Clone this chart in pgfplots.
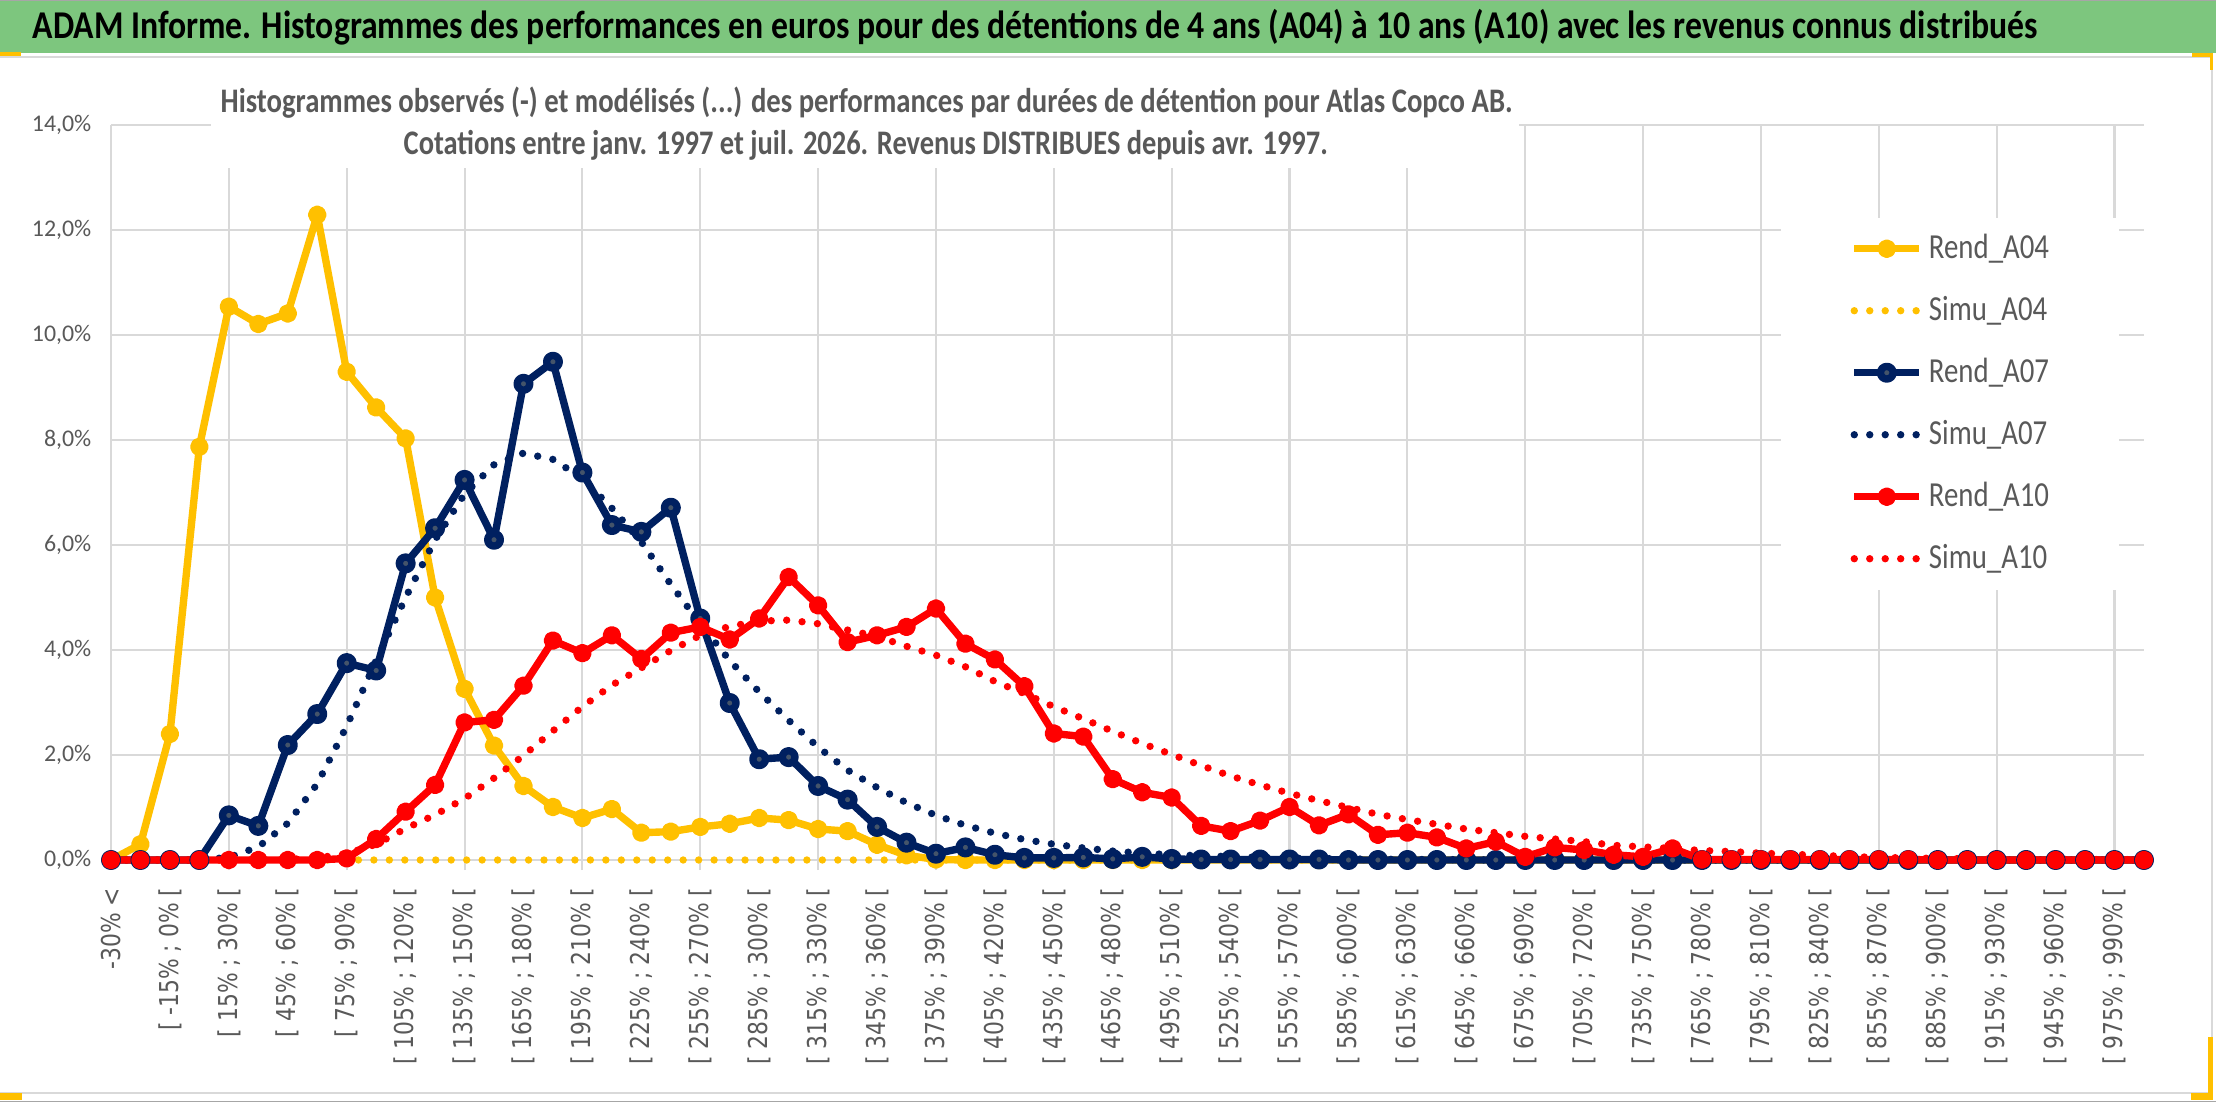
\documentclass[border=0pt]{standalone}
\usepackage{fontspec}
\setmainfont{Carlito}
\newfontfamily\legfont{Carlito}[FakeStretch=0.82]
\newfontfamily\xfont{DejaVu Sans}[FakeStretch=0.84]
\usepackage{graphicx}
\usepackage{pgfplots}
\usepackage{pgfplotstable}
\pgfplotsset{compat=1.18}
\definecolor{gold}{HTML}{FFC000}
\definecolor{navy}{HTML}{002060}
\definecolor{mkseven}{HTML}{44546A}
\definecolor{redA}{HTML}{FF0000}
\definecolor{gridgray}{HTML}{D9D9D9}
\definecolor{txtgray}{HTML}{595959}
\definecolor{titlegreen}{HTML}{7DC67E}

\pgfplotstableread{
i a04 s04 a07 s07 a10 s10
0 0 0 0 0 0 0
1 0.30 0 0 0 0 0
2 2.40 0 0 0 0 0
3 7.87 0 0 0 0 0
4 10.54 0 0.85 0.05 0 0
5 10.21 0 0.65 0.25 0 0
6 10.41 0 2.19 0.70 0 0.01
7 12.29 0 2.78 1.45 0 0.04
8 9.30 0 3.75 2.55 0.03 0.12
9 8.62 0 3.61 3.80 0.40 0.30
10 8.03 0 5.65 5.00 0.92 0.60
11 5.00 0 6.32 6.10 1.43 0.86
12 3.26 0 7.24 6.97 2.62 1.17
13 2.18 0 6.10 7.53 2.67 1.56
14 1.41 0 9.07 7.75 3.32 1.99
15 1.01 0 9.49 7.63 4.18 2.46
16 0.80 0 7.38 7.27 3.94 2.92
17 0.97 0 6.38 6.70 4.28 3.33
18 0.52 0 6.25 6.06 3.83 3.66
19 0.54 0 6.71 5.25 4.33 3.99
20 0.63 0 4.60 4.50 4.44 4.28
21 0.69 0 2.99 3.80 4.20 4.45
22 0.80 0 1.92 3.20 4.60 4.55
23 0.76 0 1.96 2.66 5.39 4.57
24 0.59 0 1.41 2.15 4.85 4.50
25 0.55 0 1.15 1.71 4.15 4.38
26 0.29 0 0.63 1.38 4.28 4.26
27 0.09 0 0.33 1.09 4.44 4.07
28 0.01 0 0.12 0.85 4.79 3.90
29 0 0 0.24 0.66 4.12 3.68
30 0 0 0.10 0.51 3.82 3.40
31 0 0 0.04 0.39 3.31 3.17
32 0 0 0.04 0.30 2.41 2.92
33 0 0 0.05 0.23 2.35 2.69
34 0 0 0.02 0.17 1.54 2.45
35 0 0 0.06 0.13 1.29 2.22
36 0 0 0.02 0.10 1.19 2.01
37 0 0 0.01 0.08 0.65 1.80
38 0 0 0.01 0.065 0.55 1.60
39 0 0 0.01 0.05 0.75 1.43
40 0 0 0.01 0.04 1.01 1.27
41 0 0 0.01 0.03 0.66 1.13
42 0 0 0 0.02 0.87 1.00
43 0 0 0 0.015 0.48 0.87
44 0 0 0 0.01 0.52 0.77
45 0 0 0 0.01 0.43 0.68
46 0 0 0 0.005 0.22 0.59
47 0 0 0 0 0.35 0.52
48 0 0 0 0 0.06 0.45
49 0 0 0 0 0.24 0.40
50 0 0 0 0 0.19 0.35
51 0 0 0 0 0.10 0.28
52 0 0 0 0 0.06 0.25
53 0 0 0 0 0.22 0.22
54 0 0 0 0 0.01 0.18
55 0 0 0 0 0.01 0.16
56 0 0 0 0 0.01 0.13
57 0 0 0 0 0.01 0.11
58 0 0 0 0 0.01 0.09
59 0 0 0 0 0.01 0.065
60 0 0 0 0 0.01 0.05
61 0 0 0 0 0.01 0.04
62 0 0 0 0 0 0.03
63 0 0 0 0 0 0.025
64 0 0 0 0 0 0.02
65 0 0 0 0 0 0.015
66 0 0 0 0 0 0.01
67 0 0 0 0 0 0.01
68 0 0 0 0 0 0.01
69 0 0 0 0 0 0.005
}\data

\begin{document}
\begin{tikzpicture}
\useasboundingbox (0,0) rectangle (221.6mm,110.2mm);
\fill[white] (0,0) rectangle (221.6mm,110.2mm);
% title bar
\fill[titlegreen] (0,104.9mm) rectangle (221.6mm,110.2mm);
\draw[gray!70, line width=0.15mm] (0,110.15mm) -- (221.6mm,110.15mm);
% chart area border
\draw[gray!30, line width=0.2mm] (0,0.95mm) -- (221.2mm,0.95mm) -- (221.2mm,104.5mm) -- (0,104.5mm);
\draw[gray!70, line width=0.15mm] (0,0.05mm) -- (221.6mm,0.05mm);
% selection marks
\fill[gold] (0,104.6mm) rectangle (2.1mm,105.0mm);
\fill[gold] (0,0.2mm) rectangle (2.2mm,0.9mm);
\fill[gold] (219.2mm,104.5mm) rectangle (221.3mm,104.9mm);
\fill[gold] (221.0mm,103.2mm) rectangle (221.3mm,104.9mm);
\fill[gold] (220.8mm,0.2mm) rectangle (221.3mm,6.5mm);
\fill[gold] (219.1mm,0.2mm) rectangle (221.3mm,0.9mm);
% title
\node[anchor=base west, inner sep=0pt, text=black] at (3.2mm,106.3mm)
  {\fontsize{11.2pt}{13pt}\selectfont\bfseries\resizebox{200.5mm}{\height}{ADAM Informe. Histogrammes des performances en euros pour des détentions de 4 ans (A04) à 10 ans (A10) avec les revenus connus distribués}};

% vertical grid lines (every 4 categories) and their small outer ticks
\begin{axis}[
  at={(11.1mm,24.2mm)}, anchor=south west,
  scale only axis, width=203.3mm, height=73.5mm,
  xmin=0, xmax=69, ymin=0, ymax=14,
  axis line style={draw=none},
  xtick={0,4,...,68}, xticklabels={},
  ytick=\empty,
  xmajorgrids,
  grid style={draw=gridgray, line width=0.6pt},
  tick style={draw=gridgray, line width=0.6pt},
  tick align=outside, major tick length=1mm,
  xtick pos=left,
]
\end{axis}

\begin{axis}[
  at={(11.1mm,24.2mm)}, anchor=south west,
  scale only axis, width=203.3mm, height=73.5mm,
  xmin=0, xmax=69, ymin=0, ymax=14,
  clip=false,
  axis line style={draw=none},
  xtick={0,2,...,68},
  xticklabels={{-30\% <},{[ -15\% ; 0\% [},{[ 15\% ; 30\% [},{[ 45\% ; 60\% [},{[ 75\% ; 90\% [},{[ 105\% ; 120\% [},{[ 135\% ; 150\% [},{[ 165\% ; 180\% [},{[ 195\% ; 210\% [},{[ 225\% ; 240\% [},{[ 255\% ; 270\% [},{[ 285\% ; 300\% [},{[ 315\% ; 330\% [},{[ 345\% ; 360\% [},{[ 375\% ; 390\% [},{[ 405\% ; 420\% [},{[ 435\% ; 450\% [},{[ 465\% ; 480\% [},{[ 495\% ; 510\% [},{[ 525\% ; 540\% [},{[ 555\% ; 570\% [},{[ 585\% ; 600\% [},{[ 615\% ; 630\% [},{[ 645\% ; 660\% [},{[ 675\% ; 690\% [},{[ 705\% ; 720\% [},{[ 735\% ; 750\% [},{[ 765\% ; 780\% [},{[ 795\% ; 810\% [},{[ 825\% ; 840\% [},{[ 855\% ; 870\% [},{[ 885\% ; 900\% [},{[ 915\% ; 930\% [},{[ 945\% ; 960\% [},{[ 975\% ; 990\% [}},
  major tick length=0pt,
  tick style={draw=none},
  ytick={0,2,...,14},
  yticklabels={{0,0\%},{2,0\%},{4,0\%},{6,0\%},{8,0\%},{10,0\%},{12,0\%},{14,0\%}},
  ymajorgrids,
  grid style={draw=gridgray, line width=0.6pt},
  xtick pos=left, ytick pos=left,
  xticklabel style={font=\xfont\fontsize{7.4pt}{8pt}\selectfont, text=txtgray, rotate=90, anchor=east, inner sep=0pt},
  xticklabel shift=2.7mm,
  yticklabel style={font=\fontsize{6.8pt}{8pt}\selectfont, text=txtgray, anchor=east, inner sep=0pt},
  yticklabel shift=1.9mm,
  legend style={at={(0.8209,0.8748)}, anchor=north west, draw=none, fill=white,
    inner xsep=7mm, inner ysep=1.45mm,
    font=\legfont\fontsize{10pt}{12pt}\selectfont, text=txtgray,
    row sep=2.9mm, column sep=0.6mm,
    nodes={inner sep=0pt, text height=2.6mm, text depth=0.7mm}},
  legend cell align=left,
  legend image code/.code={\draw[mark repeat=2,mark phase=2,#1] plot coordinates {(0mm,0mm) (3.25mm,0mm) (6.5mm,0mm)};},
]
\addplot[gold, line width=2.1pt, line join=round, mark=*, mark size=1.6pt, mark options={solid, fill=gold, draw=none}] table[x=i, y=a04]{\data};
\addplot[gold, line width=2.1pt, line cap=round, dash pattern=on 0pt off 4.4pt] table[x=i, y=s04]{\data};
\addplot[navy, line width=2.1pt, line join=round, mark=*, mark size=1.8pt, mark options={solid, fill=mkseven, draw=none}] table[x=i, y=a07]{\data};
\addplot[navy, line width=2.1pt, line cap=round, dash pattern=on 0pt off 4.4pt] table[x=i, y=s07]{\data};
\addplot[redA, line width=2.1pt, line join=round, mark=*, mark size=1.6pt, mark options={solid, fill=redA, draw=none}] table[x=i, y=a10]{\data};
\addplot[redA, line width=2.1pt, line cap=round, dash pattern=on 0pt off 4.4pt] table[x=i, y=s10]{\data};
\legend{Rend\_A04, Simu\_A04, Rend\_A07, Simu\_A07, Rend\_A10, Simu\_A10}
\end{axis}

% subtitle box and text
\fill[white] (21.1mm,93.4mm) rectangle (151.9mm,101.7mm);
\node[anchor=base west, inner sep=0pt, text=txtgray] at (22.0mm,98.9mm)
  {\fontsize{9.8pt}{11pt}\selectfont\bfseries\resizebox{129.2mm}{\height}{Histogrammes observés (-) et modélisés (...) des performances par durées de détention pour Atlas Copco AB.}};
\node[anchor=base west, inner sep=0pt, text=txtgray] at (40.3mm,94.7mm)
  {\fontsize{9.8pt}{11pt}\selectfont\bfseries\resizebox{92.4mm}{\height}{Cotations entre janv. 1997 et juil. 2026. Revenus DISTRIBUES depuis avr. 1997.}};
\end{tikzpicture}
\end{document}
